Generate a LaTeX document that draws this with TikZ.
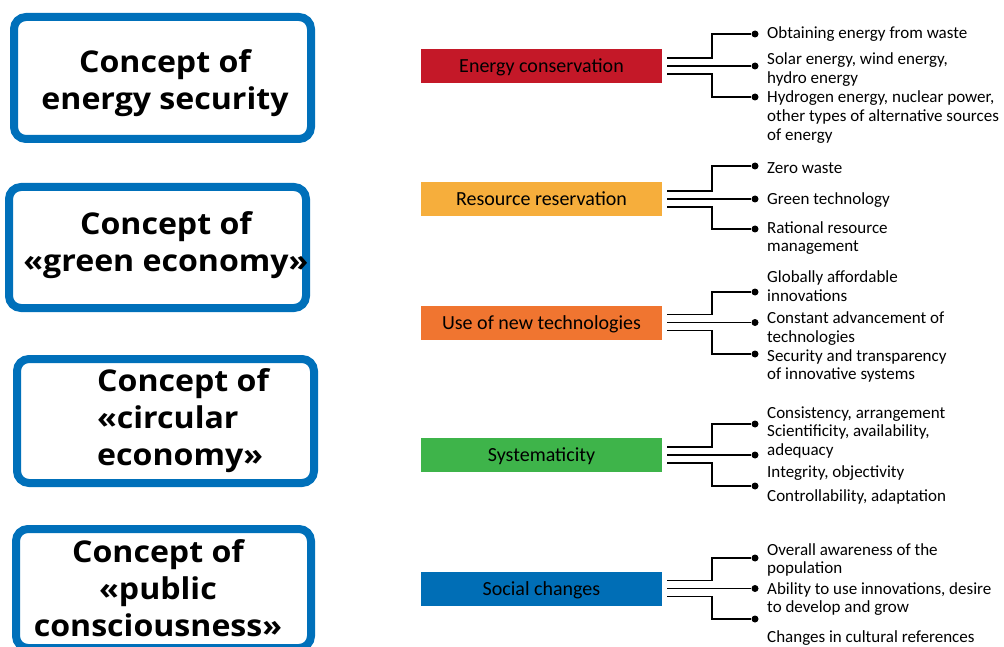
\documentclass[tikz,border=0pt]{standalone}
\usepackage{fontspec}
\setmainfont{Carlito}
\newfontfamily\conceptfont{Open Sans}[FakeStretch=1.07]
\definecolor{conceptblue}{HTML}{0070BA}
\definecolor{barred}{HTML}{C41828}
\definecolor{baryellow}{HTML}{F6AE3C}
\definecolor{barorange}{HTML}{F07530}
\definecolor{bargreen}{HTML}{3EB44A}
\definecolor{barblue}{HTML}{006EB6}

\begin{document}
\begin{tikzpicture}[x=1pt, y=-1pt,
    concept/.style={draw=conceptblue, line width=8pt, rounded corners=12pt, minimum width=297pt, inner sep=0pt},
    concept text/.style={font=\conceptfont\bfseries\fontsize{30}{37}\selectfont, align=center, anchor=base, inner sep=0pt},
    bar/.style={minimum width=241pt, minimum height=34pt, inner sep=0pt, text height=17pt, text depth=4pt, font=\fontsize{20}{24}\selectfont},
    leaf/.style={circle, fill=black, inner sep=0pt, minimum size=7pt},
    item/.style={anchor=base west, align=left, inner sep=0pt, font=\fontsize{17}{18.7}\selectfont},
    branch/.style={line width=1.8pt}]
  \useasboundingbox (0,0) rectangle (1004,647);
  \clip (0,0) rectangle (1004,647);

  \node[concept, minimum height=122pt] (box1) at (162.5,78) {};
  \node[concept, minimum height=121pt] (box2) at (157.5,247.5) {};
  \node[concept, minimum height=124pt] (box3) at (165.5,421) {};
  \node[concept, minimum height=119pt, minimum width=295pt] (box4) at (163.5,588.5) {};
  \node[concept text] (box1text) at (165,110) {Concept of\\energy security};
  \node[concept text] (box2text) at (166,272) {Concept of\\«green economy»};
  \node[concept text, align=left, anchor=base west] (box3text) at (97,465) {Concept of\\«circular\\economy»};
  \node[concept text] (box4text) at (158,636) {Concept of\\«public\\consciousness»};

  \node[bar, fill=barred] (bar1) at (541.5,66) {Energy conservation};
  \node[bar, fill=baryellow] (bar2) at (541.5,199) {Resource reservation};
  \node[bar, fill=barorange] (bar3) at (541.5,322.5) {Use of new technologies};
  \node[bar, fill=bargreen] (bar4) at (541.5,455) {Systematicity};
  \node[bar, fill=barblue] (bar5) at (541.5,588.5) {Social changes};

  \node[leaf] (d1-1) at (755,34) {};
  \node[leaf] (d1-2) at (755,66) {};
  \node[leaf] (d1-3) at (755,97) {};
  \node[leaf] (d2-1) at (755,166) {};
  \node[leaf] (d2-2) at (755,199) {};
  \node[leaf] (d2-3) at (755,229) {};
  \node[leaf] (d3-1) at (755,292) {};
  \node[leaf] (d3-2) at (755,322.5) {};
  \node[leaf] (d3-3) at (755,354) {};
  \node[leaf] (d4-1) at (755,424) {};
  \node[leaf] (d4-2) at (755,455) {};
  \node[leaf] (d4-3) at (755,486) {};
  \node[leaf] (d5-1) at (755,558) {};
  \node[leaf] (d5-2) at (755,588.5) {};
  \node[leaf] (d5-3) at (755,619) {};

  \foreach \g in {1,...,5} {
    \draw[branch] ([shift={(5,-8)}]bar\g.east) -- ++(45,0) |- (d\g-1);
    \draw[branch] ([xshift=5pt]bar\g.east) -- (d\g-2);
    \draw[branch] ([shift={(5,8)}]bar\g.east) -- ++(45,0) |- (d\g-3);
  }

  \node[item] (i1-1) at (767,38.5) {Obtaining energy from waste};
  \node[item] (i1-2) at (767,83.5) {Solar energy, wind energy,\\hydro energy};
  \node[item] (i1-3) at (767,140.4) {Hydrogen energy, nuclear power,\\other types of alternative sources\\of energy};
  \node[item] (i2-1) at (767,173.5) {Zero waste};
  \node[item] (i2-2) at (767,205) {Green technology};
  \node[item] (i2-3) at (767,251.7) {Rational resource\\management};
  \node[item] (i3-1) at (767,301) {Globally affordable\\innovations};
  \node[item] (i3-2) at (767,342) {Constant advancement of\\technologies};
  \node[item] (i3-3) at (767,379.7) {Security and transparency\\of innovative systems};
  \node[item] (i4-1) at (767,418.3) {Consistency, arrangement};
  \node[item] (i4-2) at (767,455.4) {Scientificity, availability,\\adequacy};
  \node[item] (i4-3) at (767,477.3) {Integrity, objectivity};
  \node[item] (i4-4) at (767,501.7) {Controllability, adaptation};
  \node[item] (i5-1) at (767,573.7) {Overall awareness of the\\population};
  \node[item] (i5-2) at (767,612.7) {Ability to use innovations, desire\\to develop and grow};
  \node[item] (i5-3) at (767,642.3) {Changes in cultural references};
\end{tikzpicture}
\end{document}
